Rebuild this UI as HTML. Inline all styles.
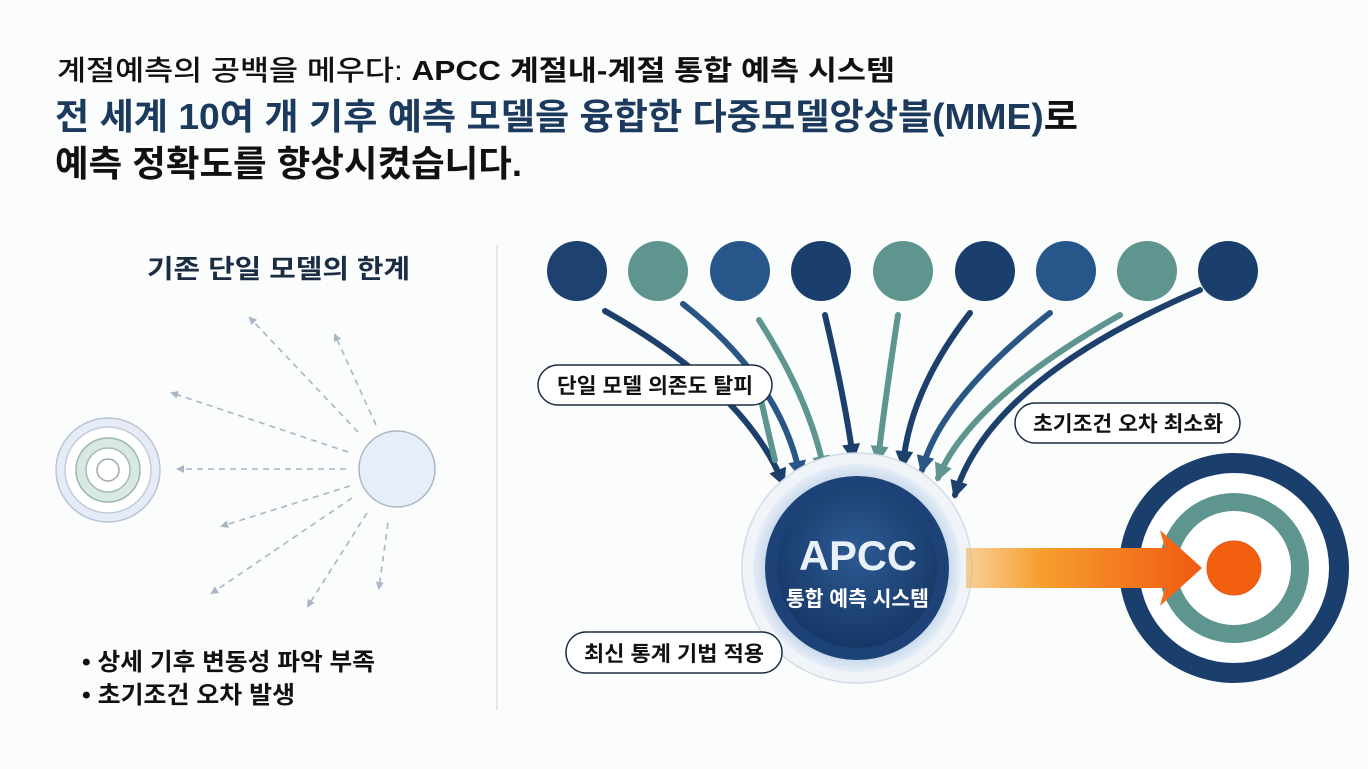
<!DOCTYPE html>
<html><head><meta charset="utf-8"><style>
html,body{margin:0;padding:0;background:#fbfcfc;}
body{width:1368px;height:764px;overflow:hidden;font-family:"Liberation Sans","Noto Sans CJK KR",sans-serif;}
</style></head><body>
<svg width="1368" height="764" viewBox="0 0 1368 764" xmlns="http://www.w3.org/2000/svg" font-family="Liberation Sans, Noto Sans CJK KR, sans-serif">
<defs>
<marker id="ag" markerWidth="8" markerHeight="8" refX="6" refY="4" orient="auto" markerUnits="userSpaceOnUse"><path d="M0,0 L8,4 L0,8 Z" fill="#a9b6c6"/></marker>
<marker id="ad" markerWidth="18" markerHeight="18" refX="14" refY="9" orient="auto" markerUnits="userSpaceOnUse"><path d="M0,0 L18,9 L0,18 Z" fill="#1d3f6b"/></marker>
<marker id="at" markerWidth="18" markerHeight="18" refX="14" refY="9" orient="auto" markerUnits="userSpaceOnUse"><path d="M0,0 L18,9 L0,18 Z" fill="#5f958f"/></marker>
<marker id="am" markerWidth="18" markerHeight="18" refX="14" refY="9" orient="auto" markerUnits="userSpaceOnUse"><path d="M0,0 L18,9 L0,18 Z" fill="#2a5686"/></marker>
<radialGradient id="cg" cx="50%" cy="40%" r="60%"><stop offset="0" stop-color="#2d5a93"/><stop offset="1" stop-color="#163766"/></radialGradient>
<radialGradient id="halo" cx="50%" cy="50%" r="50%"><stop offset="0.7" stop-color="#9fbbdb"/><stop offset="1" stop-color="#e6eef7"/></radialGradient>
<linearGradient id="og" x1="0" x2="1"><stop offset="0" stop-color="#f7b25a" stop-opacity="0.6"/><stop offset="0.3" stop-color="#f7a030"/><stop offset="1" stop-color="#f05a10"/></linearGradient>
</defs>

<text x="57" y="80" font-size="28" fill="#111" textLength="838" lengthAdjust="spacingAndGlyphs"><tspan font-weight="500">계절예측의 공백을 메우다: </tspan><tspan font-weight="bold">APCC 계절내-계절 통합 예측 시스템</tspan></text>
<text x="55" y="129" font-size="36" font-weight="bold" fill="#1c3a5e" textLength="1023" lengthAdjust="spacingAndGlyphs">전 세계 10여 개 기후 예측 모델을 융합한 다중모델앙상블(MME)<tspan fill="#111">로</tspan></text>
<text x="55" y="176" font-size="36" font-weight="bold" fill="#111" textLength="467" lengthAdjust="spacingAndGlyphs">예측 정확도를 향상시켰습니다.</text>

<text x="147" y="278" font-size="26" font-weight="bold" fill="#1b2d42" textLength="263" lengthAdjust="spacingAndGlyphs">기존 단일 모델의 한계</text>
<line x1="497" y1="245" x2="497" y2="710" stroke="#dde2e8" stroke-width="1.5"/>
<circle cx="108" cy="470" r="52" fill="#e6ecf7" stroke="#b9c3d6" stroke-width="1.5"/>
<circle cx="108" cy="470" r="43" fill="#fff" stroke="#c2cbdc" stroke-width="1.5"/>
<circle cx="108" cy="470" r="32" fill="#d8e9e3" stroke="#9bb5b0" stroke-width="1.5"/>
<circle cx="108" cy="470" r="22" fill="#fff" stroke="#a7bcb8" stroke-width="1.5"/>
<circle cx="108" cy="470" r="11" fill="#fff" stroke="#9aaab0" stroke-width="1.5"/>
<circle cx="397" cy="469" r="38" fill="#e6eef9" stroke="#aab5c5" stroke-width="1.5"/>
<g stroke="#a9b6c6" stroke-width="1.6" stroke-dasharray="6,5" fill="none" marker-end="url(#ag)">
<line x1="358" y1="432" x2="250" y2="318"/>
<line x1="376" y1="425" x2="335" y2="335"/>
<line x1="348" y1="452" x2="172" y2="393"/>
<line x1="346" y1="469" x2="178" y2="469"/>
<line x1="350" y1="486" x2="222" y2="526"/>
<line x1="352" y1="498" x2="212" y2="593"/>
<line x1="367" y1="513" x2="308" y2="606"/>
<line x1="388" y1="523" x2="379" y2="588"/>
</g>
<text x="82" y="670" font-size="24" font-weight="bold" fill="#111" textLength="293" lengthAdjust="spacingAndGlyphs">• 상세 기후 변동성 파악 부족</text>
<text x="82" y="703" font-size="24" font-weight="bold" fill="#111" textLength="213" lengthAdjust="spacingAndGlyphs">• 초기조건 오차 발생</text>

<g fill="none" stroke-width="6" stroke-linecap="round">
<path d="M605,311 Q745,390 783,483" stroke="#1d3f6b" marker-end="url(#ad)"/>
<path d="M683,304 Q780,380 800,475" stroke="#2a5686" marker-end="url(#am)"/>
<path d="M759,320 Q810,400 824,470" stroke="#5f958f" marker-end="url(#at)"/>
<path d="M825,315 Q845,400 853,458" stroke="#1d3f6b" marker-end="url(#ad)"/>
<path d="M898,315 Q885,400 878,460" stroke="#5f958f" marker-end="url(#at)"/>
<path d="M970,313 Q910,390 903,465" stroke="#1d3f6b" marker-end="url(#ad)"/>
<path d="M1050,313 Q940,400 922,470" stroke="#2a5686" marker-end="url(#am)"/>
<path d="M1120,315 Q970,400 938,478" stroke="#5f958f" marker-end="url(#at)"/>
<path d="M1200,290 Q990,380 955,495" stroke="#1d3f6b" marker-end="url(#ad)"/>
<path d="M762,404 Q770,440 775,460" stroke="#5f958f"/>
</g>
<g>
<circle cx="577" cy="271" r="30" fill="#1d426f"/>
<circle cx="658" cy="271" r="30" fill="#5f958f"/>
<circle cx="740" cy="271" r="30" fill="#27568a"/>
<circle cx="821" cy="271" r="30" fill="#1b3f6c"/>
<circle cx="903" cy="271" r="30" fill="#5f958f"/>
<circle cx="985" cy="271" r="30" fill="#1b3f6c"/>
<circle cx="1066" cy="271" r="30" fill="#27568a"/>
<circle cx="1147" cy="271" r="30" fill="#5f958f"/>
<circle cx="1228" cy="271" r="30" fill="#1b3f6c"/>
</g>

<rect x="538" y="365" width="234" height="40" rx="20" fill="#fff" stroke="#1b2d42" stroke-width="1.5"/>
<text x="557" y="393" font-size="21" font-weight="bold" fill="#111" textLength="196" lengthAdjust="spacingAndGlyphs">단일 모델 의존도 탈피</text>
<rect x="1015" y="403" width="225" height="40" rx="20" fill="#fff" stroke="#1b2d42" stroke-width="1.5"/>
<text x="1033" y="431" font-size="21" font-weight="bold" fill="#111" textLength="190" lengthAdjust="spacingAndGlyphs">초기조건 오차 최소화</text>

<circle cx="857" cy="568" r="115" fill="#f0f4f9" stroke="#d2dce8" stroke-width="1.5"/>
<circle cx="857" cy="568" r="104" fill="url(#halo)"/>
<circle cx="857" cy="568" r="92" fill="#1c4277"/>
<circle cx="857" cy="568" r="80" fill="url(#cg)"/>
<text x="799" y="570" font-size="42" font-weight="bold" fill="#e8f0fa" textLength="118" lengthAdjust="spacingAndGlyphs">APCC</text>
<text x="786" y="606" font-size="21" font-weight="bold" fill="#fff" textLength="143" lengthAdjust="spacingAndGlyphs">통합 예측 시스템</text>

<rect x="566" y="632" width="216" height="41" rx="20" fill="#fff" stroke="#1b2d42" stroke-width="1.5"/>
<text x="584" y="661" font-size="21" font-weight="bold" fill="#111" textLength="180" lengthAdjust="spacingAndGlyphs">최신 통계 기법 적용</text>

<circle cx="1234" cy="568" r="105" fill="#fff" stroke="#1b3f6c" stroke-width="20"/>
<circle cx="1234" cy="568" r="66" fill="#fff" stroke="#5f958f" stroke-width="18"/>
<circle cx="1234" cy="568" r="27" fill="#f2600f" stroke="#e05a20" stroke-width="1"/>
<path d="M966,548 L1165,548 L1160,530 L1202,568 L1160,606 L1165,588 L966,588 Z" fill="url(#og)"/>
</svg>
</body></html>
